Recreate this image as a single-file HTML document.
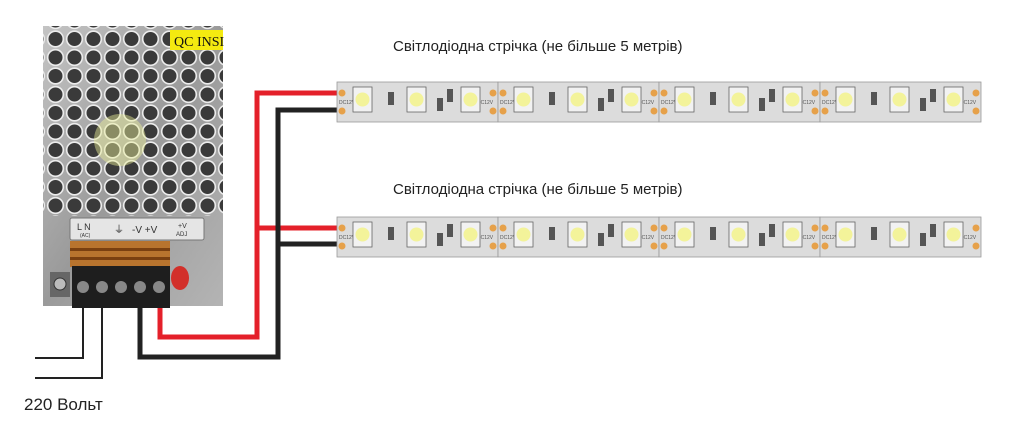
<!DOCTYPE html>
<html><head><meta charset="utf-8"><style>
html,body{margin:0;padding:0;background:#fff;width:1024px;height:438px;overflow:hidden}
svg{display:block}
text{font-family:"Liberation Sans","DejaVu Sans",sans-serif}
</style></head><body>
<svg width="1024" height="438" viewBox="0 0 1024 438" xmlns="http://www.w3.org/2000/svg">
<defs>
<pattern id="holes" x="46" y="30" width="19" height="18.5" patternUnits="userSpaceOnUse">
<circle cx="9.5" cy="9" r="7.8" fill="#3a3a3a" stroke="#ececec" stroke-width="1.6"/>
</pattern>
<linearGradient id="metal" x1="0" y1="0" x2="1" y2="1">
<stop offset="0" stop-color="#c4c4c4"/><stop offset="0.5" stop-color="#9a9a9a"/><stop offset="1" stop-color="#b4b4b4"/>
</linearGradient>
<g id="seg">
<rect x="0" y="0" width="161" height="40" fill="#dcdcdc" stroke="#999" stroke-width="0.8"/>
<circle cx="5" cy="11" r="3.5" fill="#e6a14a"/><circle cx="5" cy="29" r="3.5" fill="#e6a14a"/>
<circle cx="156" cy="11" r="3.5" fill="#e6a14a"/><circle cx="156" cy="29" r="3.5" fill="#e6a14a"/>
<text x="2" y="22" font-size="5" fill="#555">DC12V</text>
<text x="140" y="22" font-size="5" fill="#555">DC12V</text>
<g><rect x="16" y="5" width="19" height="25" fill="#f2f2f2" stroke="#666" stroke-width="0.8"/><circle cx="25.5" cy="17.5" r="7" fill="#f3f39a"/></g>
<g><rect x="70" y="5" width="19" height="25" fill="#f2f2f2" stroke="#666" stroke-width="0.8"/><circle cx="79.5" cy="17.5" r="7" fill="#f3f39a"/></g>
<g><rect x="124" y="5" width="19" height="25" fill="#f2f2f2" stroke="#666" stroke-width="0.8"/><circle cx="133.5" cy="17.5" r="7" fill="#f3f39a"/></g>
<rect x="51" y="10" width="6" height="13" fill="#555"/>
<rect x="100" y="16" width="6" height="13" fill="#555"/>
<rect x="110" y="7" width="6" height="13" fill="#555"/>
</g>
</defs>
<!-- PSU -->
<rect x="43" y="26" width="180" height="280" fill="url(#metal)"/>
<rect x="43" y="26" width="180" height="190" fill="url(#holes)"/>
<rect x="170" y="30" width="53" height="20" fill="#f4ea10"/>
<text x="174" y="46" font-size="14" style="font-family:'Liberation Serif',serif" fill="#111">QC INSI</text>
<circle cx="120" cy="140" r="26" fill="#eef29a" opacity="0.45"/>
<rect x="70" y="218" width="134" height="22" rx="2" fill="#e5e5e5" stroke="#777"/>
<text x="77" y="230" font-size="9" fill="#333">L    N</text><text x="80" y="237" font-size="5" fill="#333">(AC)</text>
<text x="114" y="233" font-size="10" fill="#333">⏚</text>
<text x="132" y="233" font-size="10" fill="#333">-V  +V</text>
<text x="178" y="228" font-size="7" fill="#333">+V</text><text x="176" y="236" font-size="6" fill="#333">ADJ</text>
<rect x="70" y="241" width="100" height="26" fill="#b8742e"/>
<rect x="70" y="248" width="100" height="3" fill="#7a4010"/><rect x="70" y="257" width="100" height="3" fill="#7a4010"/>
<rect x="50" y="272" width="20" height="25" fill="#666"/><circle cx="60" cy="284" r="6" fill="#bbb" stroke="#333"/>
<rect x="72" y="266" width="98" height="42" fill="#1e1e1e"/>
<circle cx="83" cy="287" r="6" fill="#888"/><circle cx="102" cy="287" r="6" fill="#888"/><circle cx="121" cy="287" r="6" fill="#888"/><circle cx="140" cy="287" r="6" fill="#888"/><circle cx="159" cy="287" r="6" fill="#888"/>
<ellipse cx="180" cy="278" rx="9" ry="12" fill="#d2302a"/>
<!-- AC wires -->
<polyline points="83,308 83,358 35,358" fill="none" stroke="#222" stroke-width="2"/>
<polyline points="102,308 102,378 35,378" fill="none" stroke="#222" stroke-width="2"/>
<text x="24" y="410" font-size="17" fill="#222">220 Вольт</text>
<!-- DC wires -->
<polyline points="160,308 160,337 257,337 257,93 337,93" fill="none" stroke="#e4202a" stroke-width="5"/>
<line x1="257" y1="228" x2="337" y2="228" stroke="#e4202a" stroke-width="5"/>
<polyline points="140,308 140,357 278,357 278,110 337,110" fill="none" stroke="#222" stroke-width="5"/>
<line x1="278" y1="244" x2="337" y2="244" stroke="#222" stroke-width="5"/>
<!-- strips -->
<g transform="translate(337,82)"><use href="#seg"/><use href="#seg" x="161"/><use href="#seg" x="322"/><use href="#seg" x="483"/></g>
<g transform="translate(337,217)"><use href="#seg"/><use href="#seg" x="161"/><use href="#seg" x="322"/><use href="#seg" x="483"/></g>
<text x="393" y="51" font-size="15" fill="#222">Світлодіодна стрічка (не більше 5 метрів)</text>
<text x="393" y="194" font-size="15" fill="#222">Світлодіодна стрічка (не більше 5 метрів)</text>
</svg>
</body></html>
